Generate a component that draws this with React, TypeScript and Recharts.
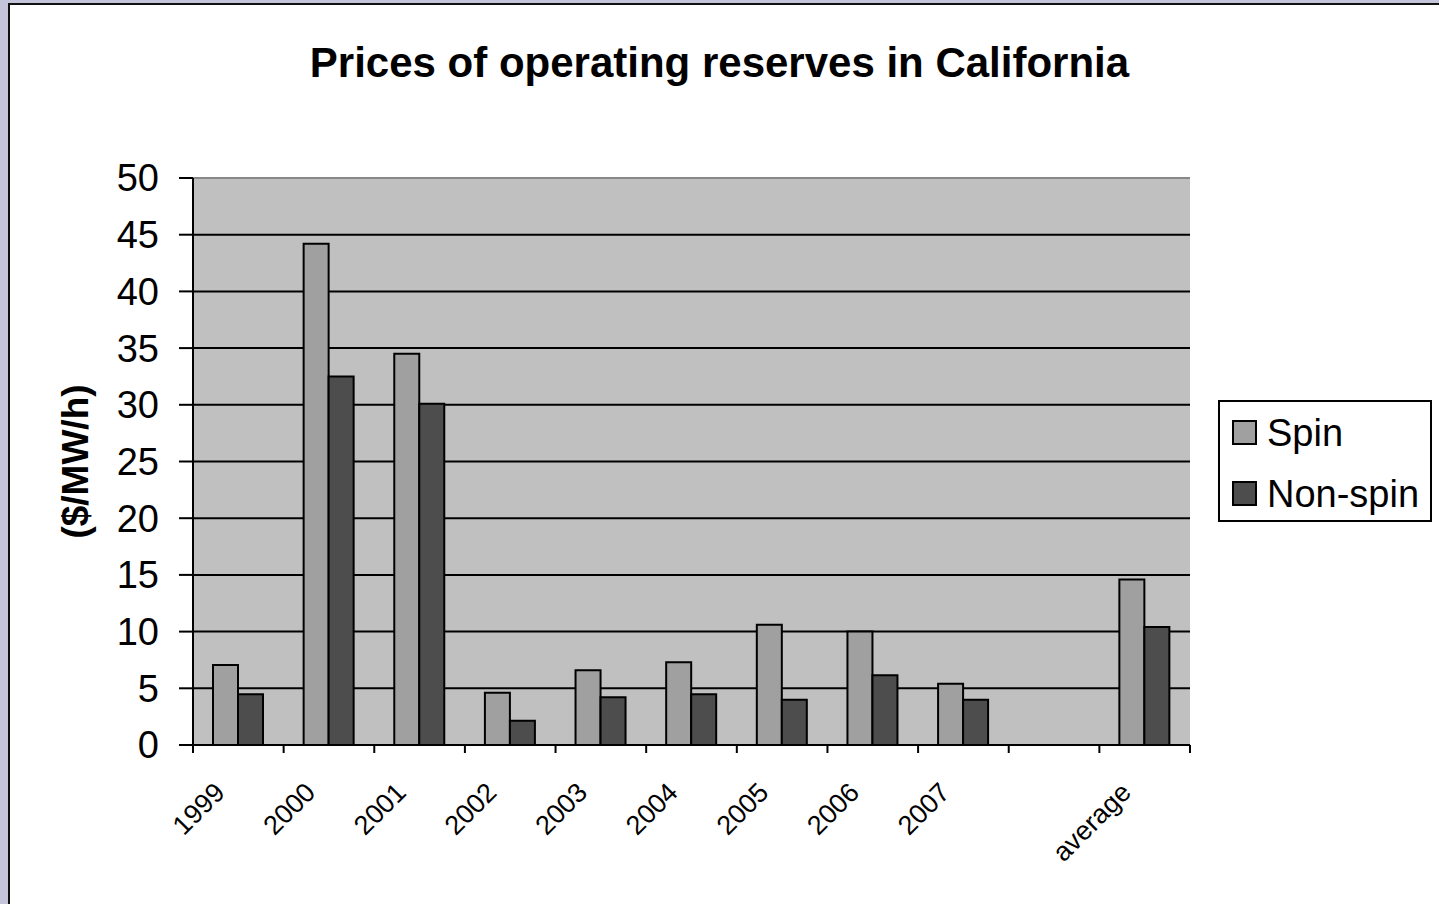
import React from "react";
import {
  BarChart,
  Bar,
  XAxis,
  YAxis,
  CartesianGrid,
  Legend,
} from "recharts";

const categories = ["1999", "2000", "2001", "2002", "2003", "2004", "2005", "2006", "2007", "", "average"];
const spin = [7.05, 44.2, 34.5, 4.6, 6.6, 7.3, 10.6, 10.0, 5.4, null, 14.6];
const nonSpin = [4.47, 32.5, 30.1, 2.14, 4.2, 4.47, 4.0, 6.15, 4.0, null, 10.4];
const yTicks = [0, 5, 10, 15, 20, 25, 30, 35, 40, 45, 50];
const seriesNames = ["Spin", "Non-spin"];

const data = categories.map((year, i) => ({
  year,
  spin: spin[i],
  nonSpin: nonSpin[i],
}));

const FONT = "'Liberation Sans', Arial, sans-serif";

function XTick(props: any) {
  const { x, y, payload, index } = props;
  const half = payload && typeof payload.offset === "number" && payload.offset > 0 ? payload.offset : 45.3;
  const last = index === categories.length - 1;
  return (
    <g>
      <line x1={x - half} x2={x - half} y1={y} y2={y + 8} stroke="#000" strokeWidth={2} />
      {last && <line x1={x + half} x2={x + half} y1={y} y2={y + 8} stroke="#000" strokeWidth={2} />}
      <text
        transform={`translate(${x - 12},${y + 49}) rotate(-45)`}
        textAnchor="end"
        fontSize={27}
        fill="#000"
        fontFamily={FONT}
      >
        {payload.value}
      </text>
    </g>
  );
}

function GridLine(props: any) {
  const { x1, x2, y1, y2, y } = props;
  const isTop = Math.abs(y1 - y) < 1;
  return (
    <line
      x1={x1}
      x2={x2}
      y1={y1}
      y2={y2}
      stroke={isTop ? "#888888" : "#000"}
      strokeWidth={2}
    />
  );
}

function LegendBox(props: any) {
  const items = [...(props.payload || [])].sort(
    (a: any, b: any) => seriesNames.indexOf(a.value) - seriesNames.indexOf(b.value)
  );
  return (
    <div
      style={{
        boxSizing: "border-box",
        width: 214,
        height: 122,
        border: "2px solid #000",
        background: "#fff",
        paddingLeft: 12,
        fontFamily: FONT,
      }}
    >
      {items.map((item: any) => (
        <div key={item.value} style={{ height: 61, display: "flex", alignItems: "center" }}>
          <span
            style={{
              display: "inline-block",
              boxSizing: "border-box",
              width: 25,
              height: 25,
              border: "2px solid #000",
              background: item.color,
              marginRight: 10,
            }}
          />
          <span style={{ fontSize: 38, lineHeight: "38px", color: "#000" }}>{item.value}</span>
        </div>
      ))}
    </div>
  );
}

function YLabel(props: any) {
  const { viewBox } = props;
  const cx = viewBox.x + 2;
  const cy = viewBox.y + viewBox.height / 2;
  return (
    <text
      transform={`translate(${cx},${cy}) rotate(-90)`}
      textAnchor="middle"
      dominantBaseline="central"
      fontSize={37}
      fontWeight="bold"
      fontFamily={FONT}
      fill="#000"
    >
      ($/MW/h)
    </text>
  );
}

export default function App() {
  return (
    <div style={{ position: "fixed", left: 0, top: 0, width: 1439, height: 904, background: "#c4c4da", fontFamily: FONT }}>
      <div
        style={{
          position: "absolute",
          left: 8,
          top: 3,
          width: 1431,
          height: 901,
          boxSizing: "border-box",
          background: "#fff",
          borderLeft: "2px solid #111",
          borderTop: "2px solid #111",
        }}
      />
      <div
        style={{
          position: "absolute",
          left: 0,
          top: 42,
          width: 1439,
          textAlign: "center",
          fontSize: 42,
          lineHeight: "42px",
          fontWeight: "bold",
          color: "#000",
        }}
      >
        Prices of operating reserves in California
      </div>
      <div style={{ position: "absolute", left: 0, top: 0 }}>
        <BarChart
          width={1439}
          height={904}
          data={data}
          margin={{ top: 178, right: 249, bottom: 59, left: 73 }}
          barGap={0}
          barSize={25}
        >
          <CartesianGrid vertical={false} fill="#c0c0c0" horizontal={GridLine} />
          <XAxis
            dataKey="year"
            height={100}
            interval={0}
            tickLine={false}
            tickSize={0}
            tickMargin={0}
            axisLine={{ stroke: "#000", strokeWidth: 2 }}
            tick={<XTick />}
          />
          <YAxis
            width={120}
            domain={[0, 50]}
            ticks={yTicks}
            interval={0}
            tickSize={14}
            tickMargin={20}
            axisLine={{ stroke: "#000", strokeWidth: 2 }}
            tickLine={{ stroke: "#000", strokeWidth: 2 }}
            tick={{ fill: "#000", fontSize: 38, fontFamily: FONT }}
            label={<YLabel />}
          />
          <YAxis
            yAxisId="right"
            orientation="right"
            width={0}
            tick={false}
            tickLine={false}
            axisLine={{ stroke: "#888888", strokeWidth: 2 }}
          />
          <Legend
            layout="horizontal"
            verticalAlign="middle"
            content={<LegendBox />}
            wrapperStyle={{ left: 1218, top: 400, width: 214, height: 122 }}
          />
          <Bar dataKey="spin" name="Spin" fill="#a0a0a0" stroke="#000" strokeWidth={2} isAnimationActive={false} />
          <Bar dataKey="nonSpin" name="Non-spin" fill="#4d4d4d" stroke="#000" strokeWidth={2} isAnimationActive={false} />
        </BarChart>
      </div>
    </div>
  );
}
